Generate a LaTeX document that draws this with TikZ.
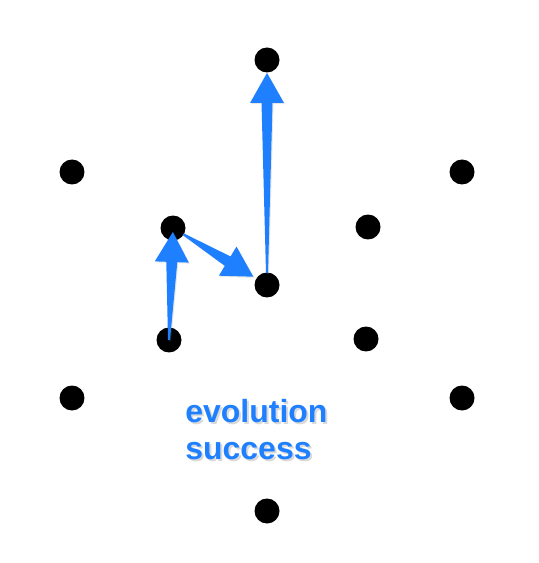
\documentclass[tikz,border=0pt]{standalone}
\usepackage{fontspec}
\usepackage{tikz}
\usetikzlibrary{calc,shadows}
\newfontfamily\lblfont{Liberation Sans}

\definecolor{evoblue}{RGB}{30,128,255}

\tikzset{
  dot/.style={circle,fill=black,inner sep=0pt,minimum size=5mm},
  fat/.style={fill=evoblue,drop shadow={opacity=0.2,shadow xshift=0.6pt,shadow yshift=-0.6pt}},
  lbl/.style={inner sep=0pt,align=left,text=evoblue,font=\lblfont\bfseries\fontsize{18.2pt}{21pt}\selectfont}
}

% tapered arrow: from, to, gap at tail, gap at tip
\newcommand{\fatarrow}[4]{%
  \path ($(#1)!#3!(#2)$) coordinate (ft)
        ($(#2)!#4!(#1)$) coordinate (fh)
        ($(fh)!6mm!(ft)$) coordinate (fb);
  \fill[fat] ($(ft)!0.2mm!90:(fh)$) -- ($(fb)!1.1mm!-90:(ft)$)
     -- ($(fb)!3.4mm!-90:(ft)$) -- (fh) -- ($(fb)!3.4mm!90:(ft)$)
     -- ($(fb)!1.1mm!90:(ft)$) -- ($(ft)!0.2mm!-90:(fh)$) -- cycle;
}

\begin{document}
\begin{tikzpicture}[x=0.02cm,y=-0.02cm]
          \useasboundingbox (0,0) rectangle (538,563);
          \node[dot] (T) at (267, 60) {};
          \node[dot] (UL) at (72, 172) {};
          \node[dot] (UR) at (462, 172) {};
          \node[dot] (IL) at (173, 228) {};
          \node[dot] (IR) at (368, 227) {};
          \node[dot] (C) at (267, 285) {};
          \node[dot] (BL) at (169, 340) {};
          \node[dot] (BR) at (366, 339) {};
          \node[dot] (LL) at (72, 398) {};
          \node[dot] (LR) at (462, 398) {};
          \node[dot] (B) at (267, 511) {};
          \fatarrow{BL}{IL}{0mm}{0.8mm}
          \fatarrow{IL}{C}{2.4mm}{3.2mm}
          \fatarrow{C}{T}{2.4mm}{2.6mm}
          \node[lbl,anchor=north west,text=black!15] at (187, 401) {evolution\\success};
          \node[lbl,anchor=north west] (txt) at (185, 399) {evolution\\success};
\end{tikzpicture}
\end{document}
